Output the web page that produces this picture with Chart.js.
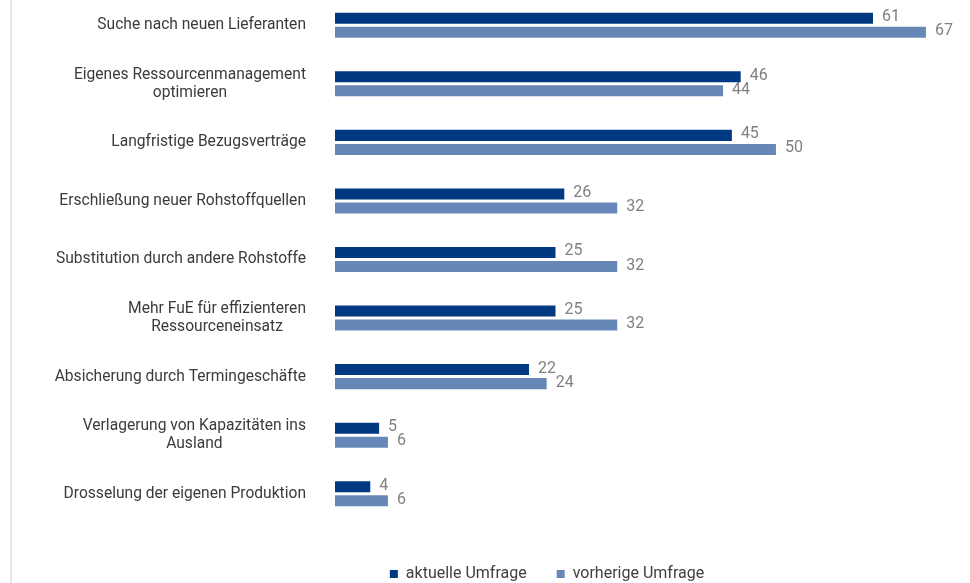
<!DOCTYPE html>
<html>

<head>
    <title>Rohstoffstrategien</title>
    <style>
        html, body { margin: 0; padding: 0; background: #fff; overflow: hidden; }
        #frame { position: absolute; left: 10px; top: 0; width: 2px; height: 583px; background: #e2e6f4; }
        #box { position: absolute; left: 0; top: -4px; width: 970px; height: 596px; }
    </style>
</head>

<body>
    <div id="frame"></div>
    <div id="box"><canvas id="myChart"></canvas></div>
    <script src="https://cdn.jsdelivr.net/npm/chart.js@4/dist/chart.umd.min.js"></script>
    <script type="text/javascript">
        const categories = [
            ['Suche nach neuen Lieferanten'],
            ['Eigenes Ressourcenmanagement', 'optimieren'],
            ['Langfristige Bezugsverträge'],
            ['Erschließung neuer Rohstoffquellen'],
            ['Substitution durch andere Rohstoffe'],
            ['Mehr FuE für effizienteren', 'Ressourceneinsatz'],
            ['Absicherung durch Termingeschäfte'],
            ['Verlagerung von Kapazitäten ins', 'Ausland'],
            ['Drosselung der eigenen Produktion']
        ];
        const aktuelle = [61, 46, 45, 26, 25, 25, 22, 5, 4];
        const vorherige = [67, 44, 50, 32, 32, 32, 24, 6, 6];
        const seriesNames = ['aktuelle Umfrage', 'vorherige Umfrage'];

        const FONT = 'Roboto, "Open Sans", sans-serif';

        // category labels: block right aligned, lines centred on each other
        const catLabels = {
            id: 'catLabels',
            afterDraw(chart) {
                const ctx = chart.ctx;
                const y = chart.scales.y;
                const right = chart.chartArea.left - 29;
                ctx.save();
                ctx.font = '15.6px ' + FONT;
                ctx.fillStyle = '#3b3b3b';
                ctx.textAlign = 'center';
                ctx.textBaseline = 'middle';
                categories.forEach((lines, i) => {
                    const py = y.getPixelForTick(i);
                    let widest = 0;
                    lines.forEach(l => widest = Math.max(widest, ctx.measureText(l).width));
                    const cx = right - widest / 2;
                    const y0 = py - (lines.length - 1) * 18 / 2;
                    lines.forEach((l, k) => ctx.fillText(l, cx, y0 + k * 18));
                });
                ctx.restore();
            }
        };

        const valueLabels = {
            id: 'valueLabels',
            afterDatasetsDraw(chart) {
                const ctx = chart.ctx;
                ctx.save();
                ctx.font = '16px ' + FONT;
                ctx.fillStyle = '#808080';
                ctx.textAlign = 'left';
                ctx.textBaseline = 'middle';
                chart.data.datasets.forEach((ds, d) => {
                    chart.getDatasetMeta(d).data.forEach((bar, i) => {
                        ctx.fillText(ds.data[i], bar.x + 9, bar.y - 1);
                    });
                });
                ctx.restore();
            }
        };

        var ctx = document.getElementById('myChart').getContext('2d');
        var chart = new Chart(ctx, {
            type: 'bar',
            data: {
                labels: categories,
                datasets: [{
                    label: seriesNames[0],
                    backgroundColor: '#003882',
                    data: aktuelle
                }, {
                    label: seriesNames[1],
                    backgroundColor: '#6788b7',
                    data: vorherige
                }]
            },
            options: {
                indexAxis: 'y',
                responsive: true,
                maintainAspectRatio: false,
                animation: false,
                categoryPercentage: 0.479,
                barPercentage: 0.786,
                layout: { padding: { left: 124, right: 0, top: 0, bottom: 0 } },
                scales: {
                    x: {
                        min: 0,
                        max: 72,
                        grid: { display: false },
                        border: { display: false },
                        ticks: { display: false },
                        afterFit: s => { s.height = 13; }
                    },
                    y: {
                        grid: { display: false },
                        border: { display: false },
                        ticks: { display: false },
                        afterFit: s => { s.width = 211; }
                    }
                },
                plugins: {
                    tooltip: { enabled: false },
                    legend: {
                        position: 'bottom',
                        labels: {
                            boxWidth: 8,
                            boxHeight: 8,
                            padding: 30,
                            color: '#404040',
                            font: { family: FONT, size: 16 }
                        }
                    }
                }
            },
            plugins: [catLabels, valueLabels]
        });
    </script>
</body>

</html>
